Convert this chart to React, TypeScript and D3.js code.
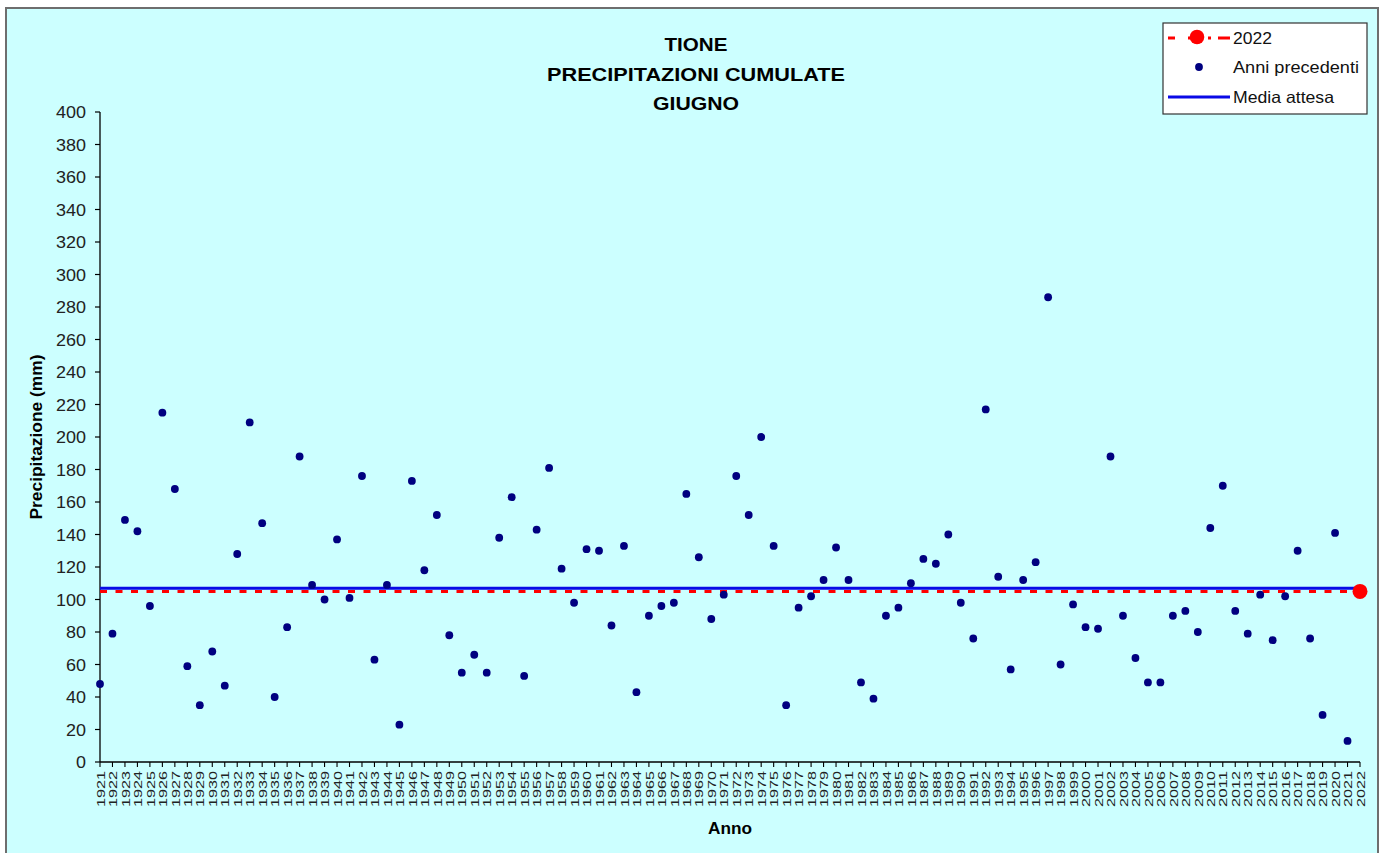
import React from "react";
import * as d3 from "d3";

const years: number[] = d3.range(1921, 2023);
const previousValues: number[] = [
  48, 79, 149, 142, 96, 215, 168, 59, 35, 68,
  47, 128, 209, 147, 40, 83, 188, 109, 100, 137,
  101, 176, 63, 109, 23, 173, 118, 152, 78, 55,
  66, 55, 138, 163, 53, 143, 181, 119, 98, 131,
  130, 84, 133, 43, 90, 96, 98, 165, 126, 88,
  103, 176, 152, 200, 133, 35, 95, 102, 112, 132,
  112, 49, 39, 90, 95, 110, 125, 122, 140, 98,
  76, 217, 114, 57, 112, 123, 286, 60, 97, 83,
  82, 188, 90, 64, 49, 49, 90, 93, 80, 144,
  170, 93, 79, 103, 75, 102, 130, 76, 29, 141, 13,
];
const currentYear = 2022;
const currentValue = 105;
const expectedMean = 107;
const yTicks: number[] = d3.range(0, 401, 20);
const titleLines: string[] = ["TIONE", "PRECIPITAZIONI CUMULATE", "GIUGNO"];
const titleWidths: number[] = [63, 298, 86];
const legendLabels: string[] = ["2022", "Anni precedenti", "Media attesa"];
const legendWidths: number[] = [39, 126, 101];

const W = 1385;
const H = 853;
const left = 100;
const right = 1360;
const top = 112;
const bottom = 762;
const FONT = "'Liberation Sans', Arial, sans-serif";

export default function App() {
  const x = d3.scalePoint<number>().domain(years).range([left, right]);
  const y = d3.scaleLinear().domain([0, 400]).range([bottom, top]);
  const prevYears = years.slice(0, previousValues.length);

  return (
    <svg
      width={W}
      height={H}
      style={{ position: "absolute", left: 0, top: 0, display: "block" }}
      fontFamily={FONT}
    >
      <rect x={0} y={0} width={W} height={H} fill="#ffffff" />
      <rect x={6} y={8} width={1372} height={H} fill="#ccffff" stroke="#6e6e6e" strokeWidth={2} />

      {/* title */}
      {titleLines.map((t, i) => (
        <text
          key={t}
          x={696}
          y={51 + i * 29.5}
          textAnchor="middle"
          fontSize={18.5}
          fontWeight="bold"
          textLength={titleWidths[i]}
          lengthAdjust="spacingAndGlyphs"
          fill="#000"
        >
          {t}
        </text>
      ))}

      {/* y axis */}
      <line x1={left} x2={left} y1={top} y2={bottom} stroke="#000" strokeWidth={1.3} />
      {yTicks.map((t) => (
        <g key={t}>
          <line x1={left - 5} x2={left} y1={y(t)} y2={y(t)} stroke="#000" strokeWidth={1.2} />
          <text
            x={left - 14}
            y={y(t)}
            dy="0.36em"
            textAnchor="end"
            fontSize={17}
            textLength={String(t).length * 10}
            lengthAdjust="spacingAndGlyphs"
            fill="#222"
          >
            {t}
          </text>
        </g>
      ))}
      <text
        transform={`translate(36,${(top + bottom) / 2}) rotate(-90)`}
        textAnchor="middle"
        dy="0.35em"
        fontSize={16}
        fontWeight="bold"
        textLength={165}
        lengthAdjust="spacingAndGlyphs"
        fill="#000"
      >
        Precipitazione (mm)
      </text>

      {/* x axis */}
      <line x1={left} x2={right} y1={bottom} y2={bottom} stroke="#000" strokeWidth={1.3} />
      {years.map((yr) => (
        <g key={yr}>
          <line x1={x(yr)} x2={x(yr)} y1={bottom} y2={bottom + 5} stroke="#000" strokeWidth={1.1} />
          <text
            transform={`translate(${x(yr)! + 0.5},${bottom + 9}) rotate(-90)`}
            textAnchor="end"
            dy="0.36em"
            fontSize={11.6}
            textLength={36}
            lengthAdjust="spacingAndGlyphs"
            fill="#222"
          >
            {yr}
          </text>
        </g>
      ))}
      <text
        x={730}
        y={834}
        textAnchor="middle"
        fontSize={16}
        fontWeight="bold"
        textLength={44}
        lengthAdjust="spacingAndGlyphs"
        fill="#000"
      >
        Anno
      </text>

      {/* mean line */}
      <line
        x1={left}
        x2={right}
        y1={y(expectedMean)}
        y2={y(expectedMean)}
        stroke="#0a0ae6"
        strokeWidth={3}
      />
      {/* 2022 dashed line */}
      <line
        x1={left}
        x2={right}
        y1={y(currentValue)}
        y2={y(currentValue)}
        stroke="#ff0000"
        strokeWidth={3}
        strokeDasharray="7 8.5"
      />

      {/* previous years */}
      {prevYears.map((yr, i) => (
        <circle key={yr} cx={x(yr)} cy={y(previousValues[i])} r={3.9} fill="#000080" />
      ))}
      {/* current year */}
      <circle cx={x(currentYear)} cy={y(currentValue)} r={7.5} fill="#ff0000" />

      {/* legend */}
      <rect x={1163} y={23} width={204} height={91} fill="#ffffff" stroke="#333" strokeWidth={1.2} />
      <line x1={1168} x2={1230} y1={38} y2={38} stroke="#ff0000" strokeWidth={3} strokeDasharray="7 13 7 13 3" />
      <circle cx={1197} cy={37} r={7.3} fill="#ff0000" />
      <circle cx={1199} cy={67} r={3.9} fill="#000080" />
      <line x1={1168} x2={1230} y1={97} y2={97} stroke="#0a0ae6" strokeWidth={3} />
      {legendLabels.map((l, i) => (
        <text
          key={l}
          x={1233}
          y={38 + i * 29.5}
          dy="0.35em"
          fontSize={16.5}
          textLength={legendWidths[i]}
          lengthAdjust="spacingAndGlyphs"
          fill="#111"
        >
          {l}
        </text>
      ))}
    </svg>
  );
}
